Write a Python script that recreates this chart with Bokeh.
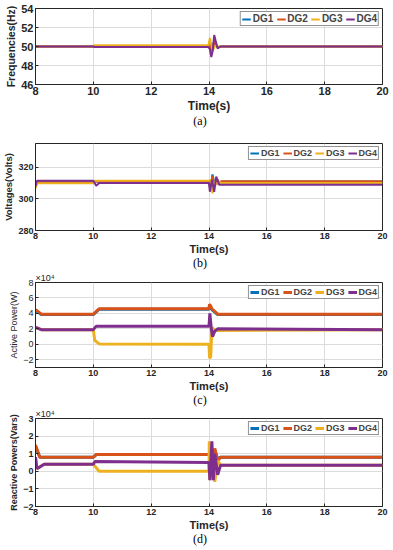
from bokeh.plotting import figure
from bokeh.layouts import column
from bokeh.models import Range1d, Legend, LegendItem, FixedTicker, Div
from bokeh.embed import file_html
from bokeh.resources import INLINE

# ---------------- data ----------------
names = ["DG1", "DG2", "DG3", "DG4"]
colors = ["#0072BD", "#D95319", "#EDB120", "#7E2F8E"]
x_ticks = [8, 10, 12, 14, 16, 18, 20]

# (a) frequencies, Hz
freq_t = [8.0, 10.0, 10.03, 13.98, 14.03, 14.08, 14.13, 14.18, 14.23, 14.3, 14.4, 20.0]
freq_dg1 = [50, 50, 49.97, 49.97, 50.3, 49.6, 49.8, 50.6, 50.2, 49.9, 50, 50]
freq_dg2 = [50, 50, 49.97, 49.97, 50.3, 49.6, 49.8, 50.6, 50.2, 49.9, 50, 50]
freq_dg3 = [50, 50, 50.12, 50.12, 50.9, 50.2, 49.5, 49.9, 50.1, 50.0, 50, 50]
freq_dg4 = [50, 50, 49.95, 49.95, 49.7, 48.9, 49.6, 51.2, 50.6, 49.8, 50, 50]
freq_ticks = [46, 48, 50, 52, 54]

# (b) voltages, V
volt_t = [8.0, 8.05, 10.0, 10.05, 14.0, 14.05, 14.12, 14.2, 14.28, 14.35, 14.45, 20.0]
volt_dg1 = [307, 310.5, 310.5, 311, 311, 306, 315.5, 309, 312, 310, 311, 311]
volt_dg2 = [307, 310.5, 310.5, 311, 311, 307, 314.5, 308, 312.5, 310.5, 311.2, 311.2]
volt_dg3 = [306.5, 309.8, 309.8, 311.5, 311.5, 312, 303.5, 311, 309, 310.5, 310, 310]
volt4_t = [8.0, 8.05, 10.0, 10.1, 10.2, 14.0, 14.03, 14.1, 14.18, 14.25, 14.35, 20.0]
volt_dg4 = [308, 311.5, 311.5, 308.3, 310, 310, 304.5, 312, 304.5, 314, 309, 309]
volt_ticks = [280, 300, 320]

# (c) active power, x1e4 W
p12_t = [8.0, 8.2, 10.0, 10.2, 14.0, 14.02, 14.1, 14.3, 20.0]
p_dg1 = [4.4, 3.85, 3.85, 4.55, 4.55, 5.1, 4.5, 3.85, 3.85]
p_dg2 = [4.5, 3.9, 3.9, 4.6, 4.6, 5.2, 4.6, 3.9, 3.9]
p3_t = [8.0, 8.2, 10.0, 10.05, 10.2, 14.0, 14.02, 14.06, 14.1, 14.2, 20.0]
p_dg3 = [2.2, 1.9, 1.9, 0.5, 0.05, 0.0, -1.8, -1.6, 2.2, 1.8, 1.9]
p4_t = [8.0, 8.2, 10.0, 10.1, 14.0, 14.03, 14.08, 14.12, 14.2, 14.3, 20.0]
p_dg4 = [2.2, 1.9, 1.9, 2.35, 2.35, 4.0, 2.0, 1.0, 1.7, 2.0, 1.9]
p_ticks = [-2, 0, 2, 4, 6, 8]

# (d) reactive power, x1e4 Vars
q12_t = [8.0, 8.15, 10.0, 10.1, 14.0, 14.05, 14.12, 14.2, 14.3, 14.4, 20.0]
q_dg1 = [1.4, 0.8, 0.8, 0.95, 0.95, 1.3, 0.6, 1.2, 0.7, 0.8, 0.8]
q_dg2 = [1.5, 0.8, 0.8, 0.95, 0.95, 1.2, 0.5, 1.3, 0.6, 0.8, 0.8]
q3_t = [8.0, 8.05, 8.3, 10.0, 10.2, 14.0, 14.01, 14.03, 14.1, 14.2, 14.3, 14.4, 20.0]
q_dg3 = [0.8, 0.15, 0.4, 0.4, 0.0, 0.0, 1.7, -0.5, 1.0, -0.6, 0.6, 0.35, 0.35]
q4_t = [8.0, 8.05, 8.3, 10.0, 10.05, 14.0, 14.03, 14.1, 14.15, 14.2, 14.3, 14.4, 20.0]
q_dg4 = [0.8, 0.15, 0.4, 0.4, 0.55, 0.5, -0.5, 1.7, -0.5, 1.0, -0.2, 0.35, 0.35]
q_ticks = [-2, -1, 0, 1, 2, 3]

FONT = "Liberation Sans"
SERIF = "Liberation Serif"
W = 393


def make_panel(series, yr, yticks, ylabel, height, top,
               lw, tick_fs, xlabel_fs, ylabel_fs, ylabel_style, ytick_style,
               leg_fs, exp_label=None):
    p = figure(width=W, height=height, output_backend="svg",
               toolbar_location=None, x_range=Range1d(8, 20),
               y_range=Range1d(*yr))
    p.min_border_top = top
    p.min_border_bottom = 0
    p.min_border_left = 0
    p.min_border_right = 11
    p.background_fill_color = "white"
    p.border_fill_color = "white"
    p.outline_line_color = "#262626"
    p.outline_line_width = 1
    items = []
    for (t, y), name, c in zip(series, names, colors):
        r = p.line(t, y, line_color=c, line_width=lw)
        items.append(LegendItem(label=name, renderers=[r]))
    leg = Legend(items=items, orientation="horizontal", location="top_right",
                 label_text_font=FONT, label_text_font_style="bold",
                 label_text_font_size=leg_fs, glyph_width=9, glyph_height=6,
                 label_standoff=2, spacing=3, padding=1, margin=3,
                 label_height=6, label_width=0,
                 border_line_color="#262626",
                 border_line_width=1, background_fill_alpha=1)
    p.add_layout(leg)
    p.xaxis.ticker = FixedTicker(ticks=x_ticks)
    p.yaxis.ticker = FixedTicker(ticks=yticks)
    p.xaxis.minor_tick_line_color = None
    p.yaxis.minor_tick_line_color = None
    for ax in (p.xaxis[0], p.yaxis[0]):
        ax.axis_line_color = "#262626"
        ax.major_tick_line_color = "#262626"
        ax.major_tick_in = 3
        ax.major_tick_out = 0
        ax.major_label_text_font = FONT
        ax.major_label_text_color = "#262626"
        ax.axis_label_text_font = FONT
        ax.axis_label_text_color = "#262626"
        ax.major_label_standoff = 2
        ax.axis_label_standoff = 1
    p.xaxis.major_label_text_font_style = "bold"
    p.xaxis.major_label_text_font_size = tick_fs
    p.yaxis.major_label_text_font_size = tick_fs
    p.yaxis.major_label_text_font_style = ytick_style
    p.xaxis.axis_label = "Time(s)"
    p.xaxis.axis_label_text_font_style = "bold"
    p.xaxis.axis_label_text_font_size = xlabel_fs
    p.yaxis.axis_label = ylabel
    p.yaxis.axis_label_text_font_size = ylabel_fs
    p.yaxis.axis_label_text_font_style = ylabel_style
    p.xgrid.grid_line_color = "#dcdcdc"
    p.ygrid.grid_line_color = "#dcdcdc"
    if exp_label:
        p.title.text = exp_label
        p.title.align = "left"
        p.title.text_font = FONT
        p.title.text_font_style = "normal"
        p.title.text_font_size = "9px"
        p.title.text_color = "#262626"
        p.title.standoff = 0
        p.title.offset = 0
    return p


def caption(text, h):
    return Div(text=text, width=W - 7, height=h, margin=(0, 0, 0, 7),
               styles={"font-family": SERIF, "font-size": "12px",
                       "text-align": "center", "line-height": "12px",
                       "color": "black"})


pa = make_panel([(freq_t, freq_dg1), (freq_t, freq_dg2), (freq_t, freq_dg3), (freq_t, freq_dg4)],
                (46, 54), freq_ticks, "Frequencies(Hz)", 115, 8,
                2, "11px", "12px", "10.5px", "bold", "bold", "10px")
pb = make_panel([(volt_t, volt_dg1), (volt_t, volt_dg2), (volt_t, volt_dg3), (volt4_t, volt_dg4)],
                (280, 335), volt_ticks, "Voltages(Volts)", 128, 14,
                2, "9px", "11px", "9.5px", "bold", "bold", "9px")
pc = make_panel([(p12_t, p_dg1), (p12_t, p_dg2), (p3_t, p_dg3), (p4_t, p_dg4)],
                (-3, 8), p_ticks, "Active Power(W)", 125, 13,
                3, "9px", "11px", "9px", "normal", "normal", "9px",
                exp_label="\u00d710\u2074")
pd_ = make_panel([(q12_t, q_dg1), (q12_t, q_dg2), (q3_t, q_dg3), (q4_t, q_dg4)],
                 (-2, 3), q_ticks, "Reactive Powers(Vars)", 127, 12,
                 3, "9px", "11px", "9px", "bold", "bold", "9px",
                 exp_label="\u00d710\u2074")

layout = column(pa, caption("(a)", 14), pb, caption("(b)", 12),
                pc, caption("(c)", 12), pd_, caption("(d)", 15), spacing=0)
open("out.html", "w").write(file_html(layout, INLINE))
